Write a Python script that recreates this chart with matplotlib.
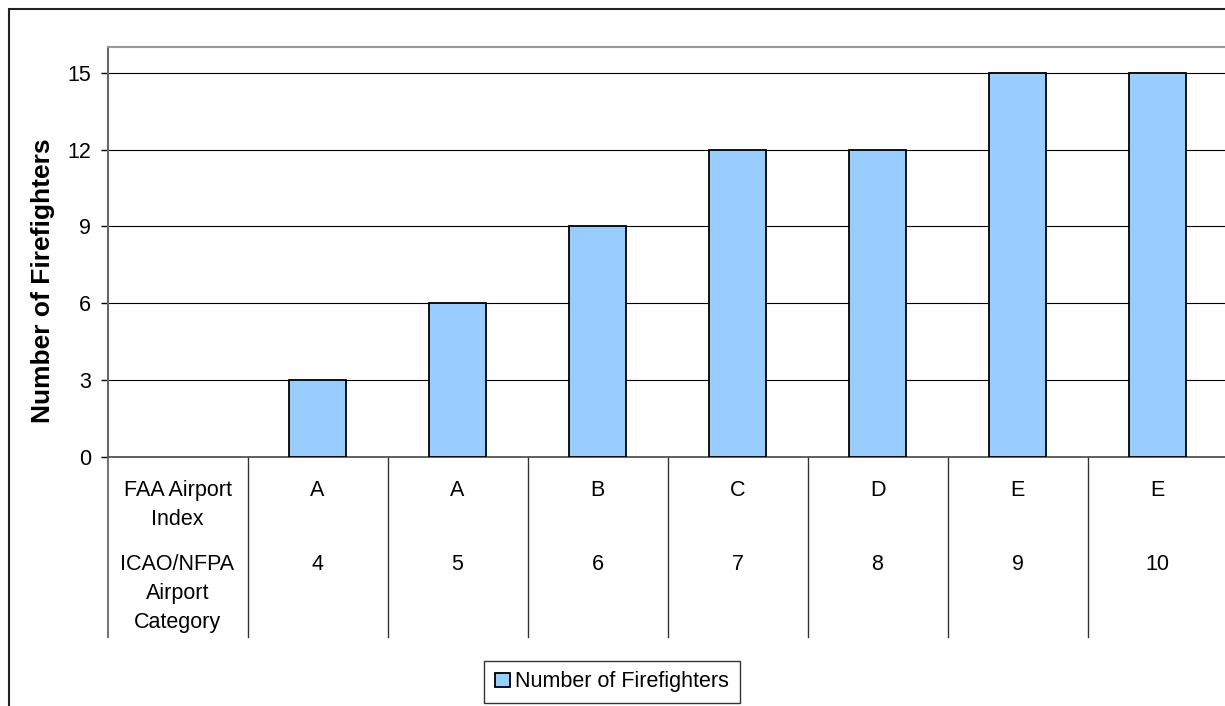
import matplotlib
matplotlib.use("Agg")
import matplotlib.pyplot as plt
from matplotlib.patches import Rectangle

plt.rcParams['font.family'] = ['Liberation Sans', 'DejaVu Sans']

# Data
row_headers = ["FAA Airport\nIndex", "ICAO/NFPA\nAirport\nCategory"]
faa_index = ["A", "A", "B", "C", "D", "E", "E"]
icao_category = ["4", "5", "6", "7", "8", "9", "10"]
firefighters = [3, 6, 9, 12, 12, 15, 15]
series_name = "Number of Firefighters"
y_ticks = [0, 3, 6, 9, 12, 15]

W, H = 1225, 706
fig = plt.figure(figsize=(W / 100, H / 100), dpi=100)

def fx(px):
    return px / W

def fy(py):
    return 1 - py / H

# Plot area: the first column holds the row headers of the data table
left_px, right_px = 107.5, 1227.5
top_px, bottom_px = 47, 457
ax = fig.add_axes([fx(left_px), fy(bottom_px), fx(right_px - left_px), (bottom_px - top_px) / H])

n_cols = len(faa_index) + 1
positions = list(range(1, n_cols))
ax.set_xlim(-0.5, n_cols - 0.5)
ax.set_ylim(0, 16)

ax.yaxis.grid(True, color='black', linewidth=0.8)
ax.set_axisbelow(True)
bars = ax.bar(positions, firefighters, width=0.41, color='#99CCFF',
              edgecolor='black', linewidth=1.3, label=series_name, zorder=3)

ax.set_yticks(y_ticks)
ax.set_yticklabels([str(t) for t in y_ticks])
ax.tick_params(axis='y', direction='out', length=5, width=1, color='black',
               labelsize=15.5, pad=7)
ax.set_xticks([])

ax.spines['right'].set_visible(False)
ax.spines['top'].set_color('#999999')
ax.spines['top'].set_linewidth(1.5)
ax.spines['left'].set_color('#666666')
ax.spines['left'].set_linewidth(1.5)
ax.spines['bottom'].set_color('#555555')
ax.spines['bottom'].set_linewidth(1.3)

# Data table beneath the axis
px_per_unit = (bottom_px - top_px) / 16.0
table_bottom = -(637 - bottom_px) / px_per_unit
for k in range(n_cols + 1):
    xb = k - 0.5
    ax.plot([xb, xb], [0, table_bottom], color='#333333' if k else '#777777',
            linewidth=1.0 if k else 1.5, clip_on=False, zorder=1)

row_baselines_px = [496, 570]
line_step_px = 29
row_values = [faa_index, icao_category]
for header, base_px, values in zip(row_headers, row_baselines_px, row_values):
    for i, line in enumerate(header.split("\n")):
        yl = -(base_px + i * line_step_px - bottom_px) / px_per_unit
        ax.text(0, yl, line, ha='center', va='baseline', fontsize=15.5, clip_on=False)
    yv = -(base_px - bottom_px) / px_per_unit
    for pos, val in zip(positions, values):
        ax.text(pos, yv, val, ha='center', va='baseline', fontsize=15.5, clip_on=False)

# Axis title
fig.text(fx(43), fy(281), series_name, rotation=90, ha='center', va='center',
         fontsize=19, fontweight='bold')

# Legend
leg = fig.legend(handles=[bars], labels=[series_name], loc='center',
                 bbox_to_anchor=(fx(612), fy(682)), fontsize=15.5,
                 handlelength=0.68, handleheight=0.68, handletextpad=0.25,
                 borderpad=0.5, fancybox=False, framealpha=1, edgecolor='#333333',
                 borderaxespad=0)
leg.get_frame().set_linewidth(1.0)
for h in leg.legend_handles:
    h.set_linewidth(1.3)

# Chart area border
fig.patches.append(Rectangle((fx(9), -0.2), 1.2, fy(9) + 0.2, transform=fig.transFigure,
                             fill=False, edgecolor='#222222', linewidth=1.5, zorder=0))

fig.savefig('out.png', dpi=100)
